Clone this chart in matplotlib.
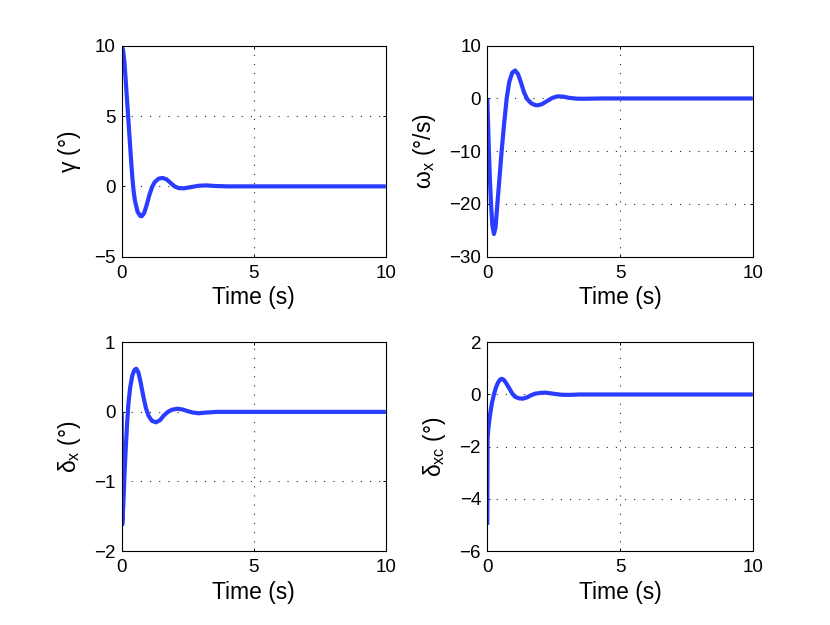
import matplotlib
matplotlib.use("Agg")
import matplotlib.pyplot as plt

plt.rcParams['font.family'] = ['Liberation Sans', 'DejaVu Sans']
plt.rcParams['mathtext.fontset'] = 'custom'
plt.rcParams['mathtext.rm'] = 'Liberation Sans'
plt.rcParams['mathtext.it'] = 'Liberation Sans'
plt.rcParams['mathtext.bf'] = 'Liberation Sans'
plt.rcParams['lines.scale_dashes'] = False

# ---- data ----
t_gamma = [0, 0.05, 0.1, 0.15, 0.2, 0.25, 0.3, 0.35, 0.4, 0.45, 0.5, 0.6, 0.7, 0.76,
           0.85, 0.95, 1.05, 1.15, 1.25, 1.4, 1.55, 1.7, 1.85, 2.0, 2.15, 2.35, 2.6,
           2.9, 3.2, 3.5, 4.0, 5.0, 10.0]
gamma = [10, 9.7, 8.9, 7.6, 6.2, 4.8, 3.4, 2.0, 0.7, -0.3, -1.0, -1.8, -2.1, -2.12,
         -1.9, -1.3, -0.6, -0.05, 0.3, 0.55, 0.6, 0.5, 0.25, 0.0, -0.12, -0.14, -0.06,
         0.04, 0.07, 0.03, 0.0, 0.0, 0.0]

t_omega = [0, 0.03, 0.06, 0.1, 0.14, 0.19, 0.25, 0.31, 0.38, 0.46, 0.54, 0.63, 0.73,
           0.83, 0.94, 1.05, 1.16, 1.27, 1.38, 1.5, 1.65, 1.8, 1.9, 2.05, 2.25, 2.45,
           2.65, 2.85, 3.1, 3.4, 3.8, 4.3, 5.0, 10.0]
omega = [0, -5, -10, -15.5, -20, -24, -25.7, -24.5, -20, -15, -10, -5, 0,
         3.2, 4.9, 5.3, 4.6, 3.0, 1.2, -0.1, -0.9, -1.25, -1.3, -1.1, -0.5, 0.1,
         0.4, 0.35, 0.1, -0.05, -0.05, 0.0, 0.0, 0.0]

t_dx = [0, 0.02, 0.06, 0.1, 0.15, 0.2, 0.25, 0.32, 0.4, 0.48, 0.55, 0.63, 0.72, 0.82,
        0.92, 1.02, 1.15, 1.3, 1.45, 1.6, 1.75, 1.9, 2.1, 2.3, 2.5, 2.7, 2.9, 3.2,
        3.6, 5.0, 10.0]
dx = [0, -1.62, -1.35, -0.95, -0.55, -0.2, 0.1, 0.35, 0.52, 0.6, 0.62, 0.57, 0.42, 0.22,
      0.05, -0.06, -0.13, -0.15, -0.12, -0.05, 0.0, 0.03, 0.045, 0.035, 0.01, -0.01, -0.02,
      -0.01, 0.0, 0.0, 0.0]

t_dxc = [0, 0.01, 0.04, 0.08, 0.13, 0.18, 0.25, 0.32, 0.4, 0.48, 0.55, 0.63, 0.72, 0.82,
         0.95, 1.05, 1.2, 1.34, 1.5, 1.65, 1.8, 2.0, 2.17, 2.35, 2.55, 2.8, 3.1, 3.5,
         5.0, 10.0]
dxc = [-5, -1.7, -1.3, -0.95, -0.6, -0.3, 0.0, 0.25, 0.45, 0.57, 0.6, 0.55, 0.42, 0.25,
       0.02, -0.09, -0.15, -0.16, -0.11, -0.03, 0.03, 0.06, 0.07, 0.05, 0.02, -0.01, -0.015,
       0.0, 0.0, 0.0]

panels = [
    (t_gamma, gamma, (-5, 10), [-5, 0, 5, 10], r'$\mathrm{\gamma}$ (°)'),
    (t_omega, omega, (-30, 10), [-30, -20, -10, 0, 10], r'$\mathrm{\omega}_{\mathrm{x}}$ (°/s)'),
    (t_dx, dx, (-2, 1), [-2, -1, 0, 1], r'$\mathrm{\delta}_{\mathrm{x}}$ (°)'),
    (t_dxc, dxc, (-6, 2), [-6, -4, -2, 0, 2], r'$\mathrm{\delta}_{\mathrm{xc}}$ (°)'),
]
xticks = [0, 5, 10]

fig = plt.figure(figsize=(8.3, 6.25), dpi=100)
W, H = 830, 625
boxes = [(121.7, 45.7, 385.7, 256.7), (487.3, 45.7, 752.7, 256.7),
         (121.7, 342.3, 385.7, 551.0), (487.3, 342.3, 752.7, 551.0)]

for (t, y, ylim, yt, lab), (x0, y0, x1, y1) in zip(panels, boxes):
    ax = fig.add_axes([x0 / W, 1 - y1 / H, (x1 - x0) / W, (y1 - y0) / H])
    ax.plot(t, y, color='#2a3cff', lw=3.0, solid_joinstyle='round', solid_capstyle='butt')
    ax.set_xlim(0, 10)
    ax.set_ylim(*ylim)
    ax.set_xticks(xticks)
    ax.set_yticks(yt)
    ax.grid(True, color='0.15', linestyle=(0, (0.8, 5.8)), linewidth=0.8)
    ax.tick_params(direction='in', length=2.5, width=0.7, top=True, right=True,
                   labelsize=13.5, pad=6)
    ax.tick_params(axis='y', pad=4.5)
    for s in ax.spines.values():
        s.set_linewidth(0.8)
    ax.set_xlabel('Time (s)', fontsize=16.5, labelpad=3)
    ax.set_ylabel(lab, fontsize=16.5, labelpad=8)

fig.savefig('out.png', dpi=100)
